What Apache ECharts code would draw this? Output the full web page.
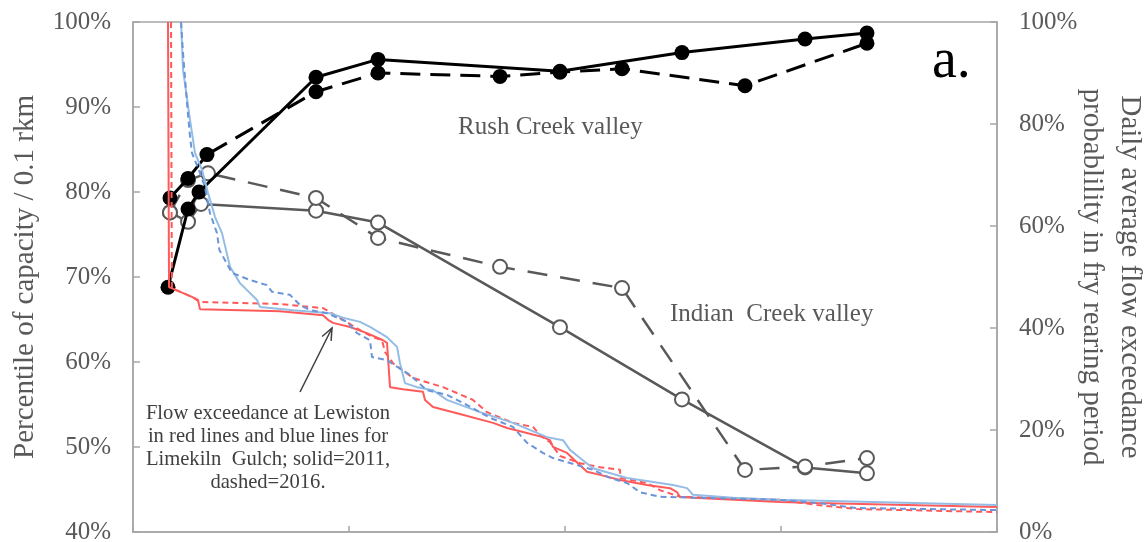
<!DOCTYPE html>
<html><head><meta charset="utf-8">
<script src="https://cdn.jsdelivr.net/npm/echarts@6/dist/echarts.min.js"></script>
<style>html,body{margin:0;padding:0;background:#fff}#c{width:1145px;height:542px}</style>
</head><body><div id="c"></div>
<script>
// X positions (relative units 0-100 along the axis)
const rushSolidX = [4.05, 6.37, 7.64, 21.18, 28.36, 49.42, 63.54, 77.78, 84.95];
const rushSolidY = [68.8, 78.0, 80.0, 93.5, 95.6, 94.2, 96.4, 98.0, 98.7];
const rushDashX = [4.28, 6.37, 8.56, 21.18, 28.36, 42.48, 49.42, 56.60, 70.83, 84.95];
const rushDashY = [79.3, 81.6, 84.4, 91.8, 94.0, 93.6, 94.1, 94.5, 92.5, 97.5];
const indSolidX = [4.28, 6.37, 7.87, 21.18, 28.36, 49.42, 63.54, 77.78, 84.95];
const indSolidY = [77.6, 76.5, 78.6, 77.8, 76.4, 64.1, 55.6, 47.6, 46.9];
const indDashX = [4.28, 6.37, 8.68, 21.18, 28.36, 42.48, 56.60, 70.83, 77.78, 84.95];
const indDashY = [77.6, 81.4, 82.2, 79.3, 74.6, 71.2, 68.7, 47.3, 47.7, 48.7];

// Flow exceedance curves (right axis, %)
const lewis2011X = [4.05,4.17,4.28,6.83,7.52,7.75,17.01,21.99,22.57,23.15,25.12,27.08,28.94,29.40,29.51,29.75,31.25,33.56,33.80,34.72,37.50,41.67,43.29,45.14,47.45,48.26,48.61,50.23,51.74,52.55,54.05,56.37,59.49,62.15,62.96,63.31,64.81,74.88,79.17,100];
const lewis2011Y = [100,48.0,47.8,46.1,45.5,43.7,43.3,42.5,41.6,41.0,40.2,39.0,37.6,37.1,34.3,28.4,28.0,27.5,25.9,24.5,23.3,21.4,20.4,19.6,18.6,18.0,16.7,15.5,13.1,11.8,11.2,10.2,9.2,8.6,7.8,6.9,6.7,5.9,5.7,4.9];
const lewis2016X = [4.4,4.5,6.83,7.75,17.01,21.99,24.31,26.27,27.78,28.82,29.17,30.09,32.41,35.88,39.35,40.97,43.98,46.30,47.11,48.26,49.42,51.74,54.05,56.37,56.40,59.49,61.00,63.31,74.88,79.17,83.80,100];
const lewis2016Y = [100,47.8,46.1,45.1,44.7,43.9,41.6,39.6,38.2,37.6,35.3,33.1,30.2,28.4,25.9,23.5,21.4,20.6,19.0,17.6,14.9,13.5,12.7,12.2,10.6,9.6,8.2,6.9,6.3,5.3,4.5,3.9];
const lime2011X = [5.56,5.79,6.60,7.18,7.99,8.68,9.49,10.30,11.23,12.38,14.35,14.70,18.52,22.80,24.31,26.27,27.43,29.40,30.56,30.90,31.48,32.87,34.72,36.34,40.16,43.98,47.92,49.77,50.58,51.74,53.24,57.18,62.50,64.12,64.81,69.44,74.88,100];
const lime2011Y = [100,90.6,80.8,74.3,71.0,66.5,61.8,58.6,52.0,48.8,45.5,44.1,43.5,42.9,42.0,41.2,40.2,38.2,36.3,33.1,29.2,28.4,27.8,25.9,23.5,21.4,18.6,18.0,16.1,14.5,12.5,10.6,9.2,8.6,7.3,6.7,6.3,5.3];
const lime2016X = [5.56,5.79,6.25,6.60,6.83,7.75,8.33,8.91,9.72,10.0,11.46,13.54,15.51,16.09,18.17,19.33,20.49,22.45,24.77,25.93,27.43,27.66,29.40,30.56,32.06,34.03,36.34,38.66,41.32,43.98,45.60,47.45,48.61,53.24,55.21,57.18,58.68,61.00,74.88,79.17,83.80,100];
const lime2016Y = [100,93.9,84.1,77.5,74.3,70.4,67.6,62.5,58.6,55.3,50.8,49.4,48.4,47.1,46.5,44.5,43.5,42.9,41.2,39.0,37.6,34.3,33.7,32.4,30.8,27.8,26.9,24.9,22.4,20.6,17.5,15.5,14.5,12.2,10.6,9.6,7.8,6.9,6.3,5.7,4.7,4.3];

const leftTicks = {min: 40, max: 100, step: 10};
const rightTicks = {min: 0, max: 100, step: 20};
const xTicks = {min: 0, max: 100, step: 25};

const zip = (xs, ys) => xs.map((x, i) => [x, ys[i]]);
const FONT = 'Liberation Serif';
const AX = '#a6a6a6';
const TXT = '#595959';

const chart = echarts.init(document.getElementById('c'), null, {renderer: 'canvas'});

function flow(name, xs, ys, color, dashed) {
  return {
    name, type: 'line', yAxisIndex: 1, data: zip(xs, ys), symbol: 'none', z: 5,
    lineStyle: {color, width: 2, type: dashed ? [6, 4] : 'solid'}
  };
}
function site(name, xs, ys, color, dashed, filled, w, dash) {
  return {
    name, type: 'line', yAxisIndex: 0, data: zip(xs, ys), z: filled ? 4 : 3,
    symbol: filled ? 'circle' : 'emptyCircle', symbolSize: filled ? 15 : 14,
    itemStyle: filled ? {color} : {color, borderWidth: 2},
    lineStyle: {color, width: w, type: dashed ? dash : 'solid'}
  };
}

chart.setOption({
  animation: false,
  grid: {left: 133, right: 148, top: 22, bottom: 10, show: true, borderColor: AX, borderWidth: 1.5, outerBoundsMode: 'none', containLabel: false},
  xAxis: {
    type: 'value', min: xTicks.min, max: xTicks.max, interval: xTicks.step,
    axisLine: {show: true, lineStyle: {color: AX, width: 1.5}},
    axisTick: {show: true, inside: true, length: 6, lineStyle: {color: AX, width: 1.5}},
    axisLabel: {show: false}, splitLine: {show: false}
  },
  yAxis: [
    {
      type: 'value', min: leftTicks.min, max: leftTicks.max, interval: leftTicks.step, position: 'left',
      axisLine: {show: true, lineStyle: {color: AX, width: 1.5}},
      axisTick: {show: true, inside: true, length: 7, lineStyle: {color: AX, width: 1.5}},
      axisLabel: {formatter: '{value}%', color: TXT, fontFamily: FONT, fontSize: 25, margin: 22},
      splitLine: {show: false},
      name: 'Percentile of capacity / 0.1 rkm', nameLocation: 'middle', nameRotate: 90, nameGap: 93, nameMoveOverlap: false,
      nameTextStyle: {color: TXT, fontFamily: FONT, fontSize: 29}
    },
    {
      type: 'value', min: rightTicks.min, max: rightTicks.max, interval: rightTicks.step, position: 'right',
      axisLine: {show: true, lineStyle: {color: AX, width: 1.5}},
      axisTick: {show: true, inside: true, length: 7, lineStyle: {color: AX, width: 1.5}},
      axisLabel: {formatter: '{value}%', color: TXT, fontFamily: FONT, fontSize: 25, margin: 22},
      splitLine: {show: false},
      name: 'Daily average flow exceedance\nprobablility in fry rearing period', nameLocation: 'middle', nameRotate: -90, nameGap: 76, nameMoveOverlap: false,
      nameTextStyle: {color: TXT, fontFamily: FONT, fontSize: 29, lineHeight: 38}
    }
  ],
  series: [
    site('Indian 2011', indSolidX, indSolidY, '#595959', false, false, 2.5),
    site('Indian 2016', indDashX, indDashY, '#595959', true, false, 2.5, [20, 13]),
    site('Rush 2011', rushSolidX, rushSolidY, '#000000', false, true, 3),
    site('Rush 2016', rushDashX, rushDashY, '#000000', true, true, 3, [20, 10]),
    flow('Lewiston 2011', lewis2011X, lewis2011Y, '#ff5a5a', false),
    flow('Lewiston 2016', lewis2016X, lewis2016Y, '#ff5a5a', true),
    flow('Limekiln 2011', lime2011X, lime2011Y, '#94bde6', false),
    flow('Limekiln 2016', lime2016X, lime2016Y, '#6a95d8', true)
  ],
  graphic: [
    {type: 'text', left: 458, top: 115, z: 10, style: {text: 'Rush Creek valley', fill: TXT, font: '25px "Liberation Serif"'}},
    {type: 'text', left: 670, top: 302, z: 10, style: {text: 'Indian  Creek valley', fill: TXT, font: '25px "Liberation Serif"'}},
    {type: 'text', left: 932, top: 34, z: 10, style: {text: 'a.', fill: '#000', font: '56px "Liberation Serif"'}},
    {type: 'text', x: 268, y: 402, z: 10, style: {text: 'Flow exceedance at Lewiston\nin red lines and blue lines for\nLimekiln  Gulch; solid=2011,\ndashed=2016.', fill: '#404040', font: '20.6px "Liberation Serif"', lineHeight: 23, align: 'center', verticalAlign: 'top'}},
    {type: 'line', z: 10, shape: {x1: 300, y1: 392, x2: 332, y2: 328}, style: {stroke: '#404040', lineWidth: 1.5}},
    {type: 'polyline', z: 10, shape: {points: [[322.1, 336.5], [332, 328], [331.1, 340.9]]}, style: {stroke: '#404040', lineWidth: 1.5, fill: null}}
  ]
});
</script></body></html>
